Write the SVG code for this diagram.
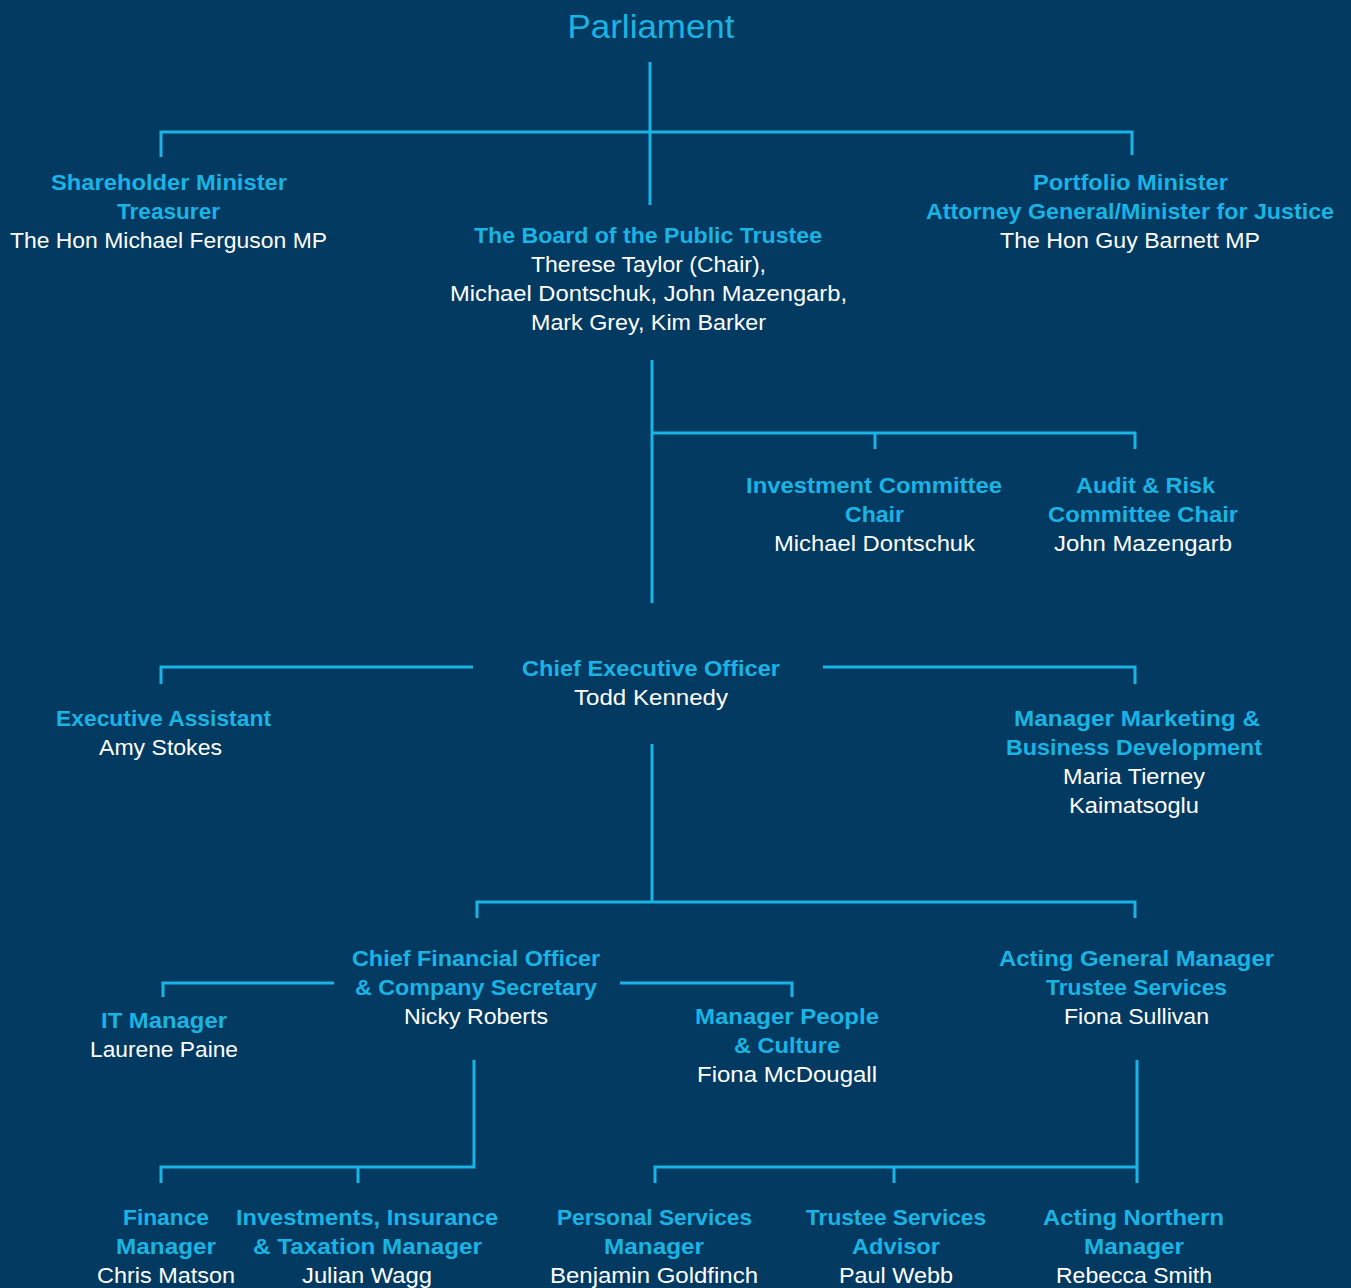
<svg xmlns="http://www.w3.org/2000/svg" width="1351" height="1288" viewBox="0 0 1351 1288">
<style>
.t{font-family:"Liberation Sans",Arial,sans-serif;font-weight:bold;font-size:22px;fill:#1ab4e4;text-anchor:middle}
.n{font-family:"Liberation Sans",Arial,sans-serif;font-size:22px;fill:#ffffff;text-anchor:middle}
.h{font-family:"Liberation Sans",Arial,sans-serif;font-size:33px;fill:#1ab4e4;text-anchor:middle}
.ln{stroke:#1ab4e4;stroke-width:3;fill:none}
</style>
<rect width="1351" height="1288" fill="#023a62"/>
<g id="connectors" class="ln">
<path d="M650 62V205M161 157V132H1132V155"/>
<path d="M652 360V603M652 433H1135V449M875 433V449"/>
<path d="M161 684V667H473M823 667H1135V684"/>
<path d="M652 744V902M477 918V902H1135V918"/>
<path d="M163 997V983H334M620 983H792V997"/>
<path d="M474 1060V1167H161V1183M358 1167V1183"/>
<path d="M1137 1060V1183M655 1183V1167H1137M894 1167V1183"/>
</g>
<g id="parliament"><text class="h" x="651" y="38" textLength="167" lengthAdjust="spacingAndGlyphs">Parliament</text></g>
<g id="shareholder">
<text class="t" x="169" y="190" textLength="236" lengthAdjust="spacingAndGlyphs">Shareholder Minister</text>
<text class="t" x="168.5" y="219" textLength="103" lengthAdjust="spacingAndGlyphs">Treasurer</text>
<text class="n" x="168.5" y="248" textLength="317" lengthAdjust="spacingAndGlyphs">The Hon Michael Ferguson MP</text>
</g>
<g id="board">
<text class="t" x="648" y="243" textLength="348" lengthAdjust="spacingAndGlyphs">The Board of the Public Trustee</text>
<text class="n" x="648.5" y="272" textLength="235" lengthAdjust="spacingAndGlyphs">Therese Taylor (Chair),</text>
<text class="n" x="648.5" y="301" textLength="397" lengthAdjust="spacingAndGlyphs">Michael Dontschuk, John Mazengarb,</text>
<text class="n" x="648.5" y="330" textLength="235" lengthAdjust="spacingAndGlyphs">Mark Grey, Kim Barker</text>
</g>
<g id="portfolio">
<text class="t" x="1130.5" y="190" textLength="195" lengthAdjust="spacingAndGlyphs">Portfolio Minister</text>
<text class="t" x="1130" y="219" textLength="408" lengthAdjust="spacingAndGlyphs">Attorney General/Minister for Justice</text>
<text class="n" x="1130" y="248" textLength="260" lengthAdjust="spacingAndGlyphs">The Hon Guy Barnett MP</text>
</g>
<g id="investment-committee">
<text class="t" x="874" y="493" textLength="256" lengthAdjust="spacingAndGlyphs">Investment Committee</text>
<text class="t" x="874.5" y="522" textLength="59" lengthAdjust="spacingAndGlyphs">Chair</text>
<text class="n" x="874.5" y="551" textLength="201" lengthAdjust="spacingAndGlyphs">Michael Dontschuk</text>
</g>
<g id="audit-risk">
<text class="t" x="1145.5" y="493" textLength="139" lengthAdjust="spacingAndGlyphs">Audit &amp; Risk</text>
<text class="t" x="1143" y="522" textLength="190" lengthAdjust="spacingAndGlyphs">Committee Chair</text>
<text class="n" x="1143" y="551" textLength="178" lengthAdjust="spacingAndGlyphs">John Mazengarb</text>
</g>
<g id="ceo">
<text class="t" x="651" y="676" textLength="258" lengthAdjust="spacingAndGlyphs">Chief Executive Officer</text>
<text class="n" x="651" y="705" textLength="154" lengthAdjust="spacingAndGlyphs">Todd Kennedy</text>
</g>
<g id="exec-assistant">
<text class="t" x="163.5" y="726" textLength="215" lengthAdjust="spacingAndGlyphs">Executive Assistant</text>
<text class="n" x="160.5" y="755" textLength="123" lengthAdjust="spacingAndGlyphs">Amy Stokes</text>
</g>
<g id="marketing">
<text class="t" x="1137" y="726" textLength="246" lengthAdjust="spacingAndGlyphs">Manager Marketing &amp;</text>
<text class="t" x="1134" y="755" textLength="256" lengthAdjust="spacingAndGlyphs">Business Development</text>
<text class="n" x="1134" y="784" textLength="142" lengthAdjust="spacingAndGlyphs">Maria Tierney</text>
<text class="n" x="1134" y="813" textLength="130" lengthAdjust="spacingAndGlyphs">Kaimatsoglu</text>
</g>
<g id="cfo">
<text class="t" x="476" y="966" textLength="248" lengthAdjust="spacingAndGlyphs">Chief Financial Officer</text>
<text class="t" x="476" y="995" textLength="242" lengthAdjust="spacingAndGlyphs">&amp; Company Secretary</text>
<text class="n" x="476" y="1024" textLength="144" lengthAdjust="spacingAndGlyphs">Nicky Roberts</text>
</g>
<g id="it-manager">
<text class="t" x="164" y="1028" textLength="126" lengthAdjust="spacingAndGlyphs">IT Manager</text>
<text class="n" x="164" y="1057" textLength="148" lengthAdjust="spacingAndGlyphs">Laurene Paine</text>
</g>
<g id="people-culture">
<text class="t" x="787" y="1024" textLength="184" lengthAdjust="spacingAndGlyphs">Manager People</text>
<text class="t" x="787" y="1053" textLength="106" lengthAdjust="spacingAndGlyphs">&amp; Culture</text>
<text class="n" x="787" y="1082" textLength="180" lengthAdjust="spacingAndGlyphs">Fiona McDougall</text>
</g>
<g id="acting-gm">
<text class="t" x="1136.5" y="966" textLength="275" lengthAdjust="spacingAndGlyphs">Acting General Manager</text>
<text class="t" x="1136.5" y="995" textLength="181" lengthAdjust="spacingAndGlyphs">Trustee Services</text>
<text class="n" x="1136.5" y="1024" textLength="145" lengthAdjust="spacingAndGlyphs">Fiona Sullivan</text>
</g>
<g id="finance">
<text class="t" x="166" y="1225" textLength="86" lengthAdjust="spacingAndGlyphs">Finance</text>
<text class="t" x="166" y="1254" textLength="100" lengthAdjust="spacingAndGlyphs">Manager</text>
<text class="n" x="166" y="1283" textLength="138" lengthAdjust="spacingAndGlyphs">Chris Matson</text>
</g>
<g id="investments">
<text class="t" x="367" y="1225" textLength="262" lengthAdjust="spacingAndGlyphs">Investments, Insurance</text>
<text class="t" x="367.5" y="1254" textLength="229" lengthAdjust="spacingAndGlyphs">&amp; Taxation Manager</text>
<text class="n" x="367" y="1283" textLength="130" lengthAdjust="spacingAndGlyphs">Julian Wagg</text>
</g>
<g id="personal-services">
<text class="t" x="654.5" y="1225" textLength="195" lengthAdjust="spacingAndGlyphs">Personal Services</text>
<text class="t" x="654" y="1254" textLength="100" lengthAdjust="spacingAndGlyphs">Manager</text>
<text class="n" x="654" y="1283" textLength="208" lengthAdjust="spacingAndGlyphs">Benjamin Goldfinch</text>
</g>
<g id="trustee-advisor">
<text class="t" x="896" y="1225" textLength="180" lengthAdjust="spacingAndGlyphs">Trustee Services</text>
<text class="t" x="896" y="1254" textLength="88" lengthAdjust="spacingAndGlyphs">Advisor</text>
<text class="n" x="896" y="1283" textLength="114" lengthAdjust="spacingAndGlyphs">Paul Webb</text>
</g>
<g id="northern">
<text class="t" x="1133.5" y="1225" textLength="181" lengthAdjust="spacingAndGlyphs">Acting Northern</text>
<text class="t" x="1134" y="1254" textLength="100" lengthAdjust="spacingAndGlyphs">Manager</text>
<text class="n" x="1134" y="1283" textLength="156" lengthAdjust="spacingAndGlyphs">Rebecca Smith</text>
</g>
</svg>
